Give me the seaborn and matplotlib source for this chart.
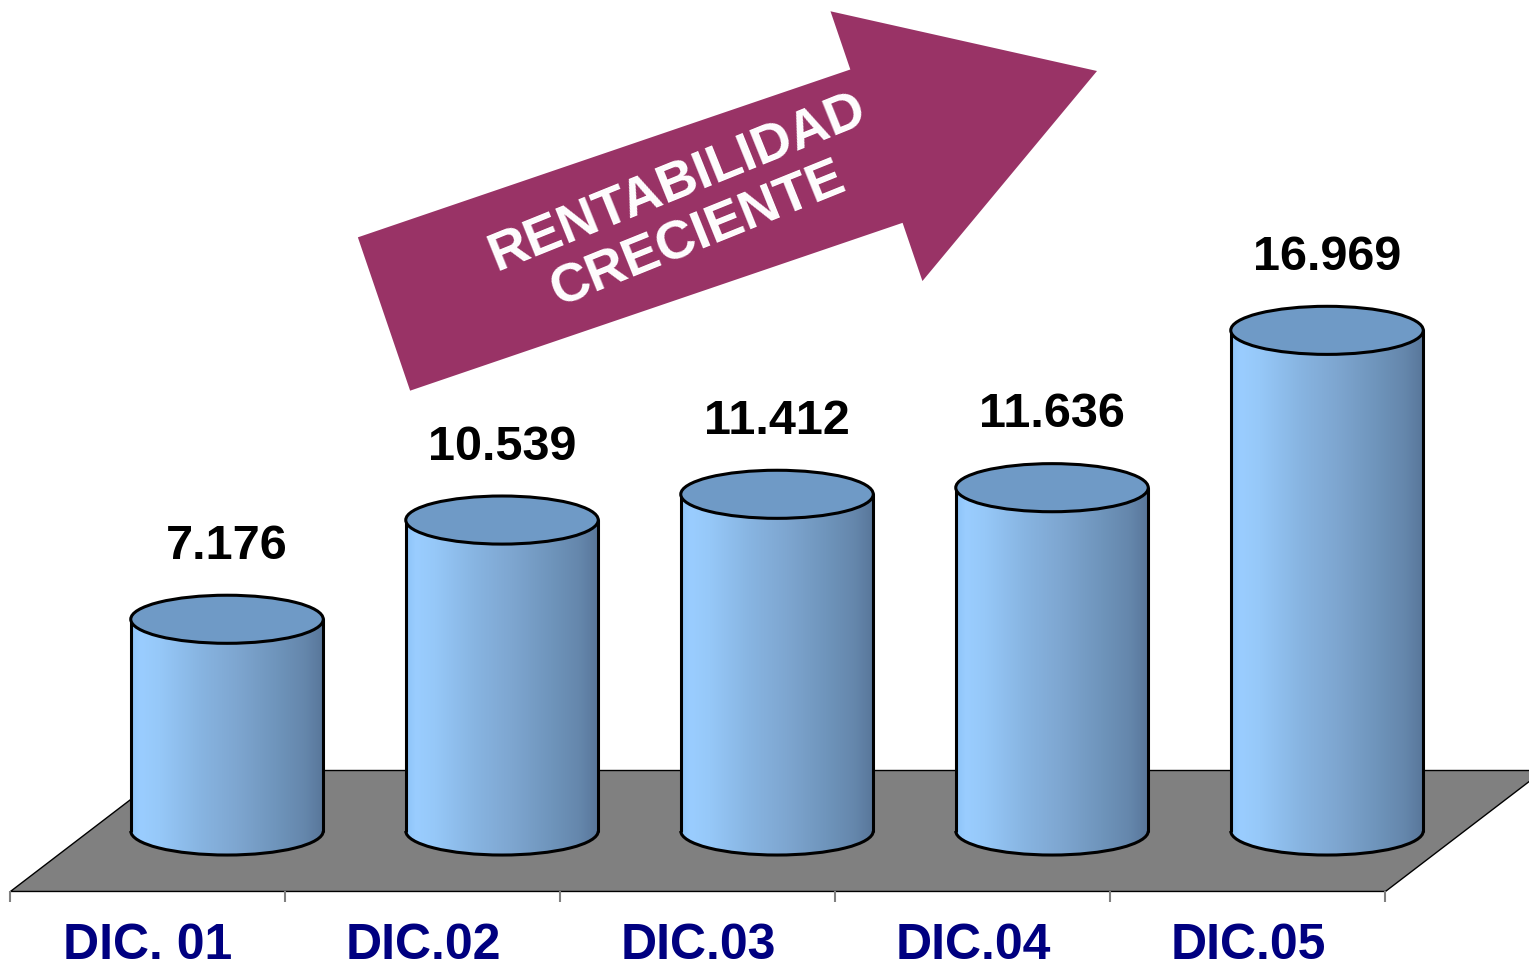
import numpy as np
import pandas as pd
import matplotlib
matplotlib.use("Agg")
import matplotlib.pyplot as plt
import seaborn as sns
from matplotlib.patches import Polygon, Ellipse, Arc, FancyArrow
from matplotlib.colors import LinearSegmentedColormap

# data
periods = ["DIC. 01", "DIC.02", "DIC.03", "DIC.04", "DIC.05"]
rentabilidad = [7.176, 10.539, 11.412, 11.636, 16.969]
value_labels = ["7.176", "10.539", "11.412", "11.636", "16.969"]
arrow_text = "RENTABILIDAD\nCRECIENTE"

sns.set_theme(style="white")
plt.rcParams["font.family"] = ["Liberation Sans", "DejaVu Sans"]

# 3d look
depth_x, depth_y = 0.575, 4.1
bar_w = 0.70
ell_h = 1.63
lw = 2.2
cyl_cmap = LinearSegmentedColormap.from_list("cyl", [
    (0.00, "#8DC4F7"), (0.05, "#9ACDFF"), (0.15, "#96C8F8"),
    (0.35, "#88B5E2"), (0.55, "#7EA6D0"), (0.75, "#6F95BC"),
    (0.90, "#6587AC"), (1.00, "#58769A")])
top_color = "#6F9AC6"

fig = plt.figure(figsize=(15.29, 9.70), dpi=100)
ax = fig.add_axes([0, 0, 1, 1])

df = pd.DataFrame({"periodo": periods, "valor": rentabilidad})
sns.barplot(data=df, x="periodo", y="valor", width=bar_w, color="#88B5E2",
            errorbar=None, ax=ax)
bars = list(ax.patches)

# floor
n = len(periods)
floor = Polygon([(-0.5, -depth_y / 2), (n - 0.5, -depth_y / 2),
                 (n - 0.5 + depth_x, depth_y / 2), (-0.5 + depth_x, depth_y / 2)],
                closed=True, facecolor="#808080", edgecolor="black", lw=1, zorder=1)
ax.add_patch(floor)
ax.vlines(np.arange(-0.5, n, 1), -depth_y / 2 - 0.35, -depth_y / 2,
          color="#808080", lw=1.5, zorder=1)

grad = np.linspace(0, 1, 256).reshape(1, -1)
for p, lab in zip(bars, value_labels):
    x0 = p.get_x() + depth_x / 2
    p.set_x(x0)
    w = p.get_width()
    h = p.get_height()
    cx = x0 + w / 2
    p.set_facecolor("none")
    p.set_linewidth(0)
    p.set_zorder(3)

    im = ax.imshow(grad, cmap=cyl_cmap, extent=[x0, x0 + w, -ell_h / 2, h],
                   aspect="auto", zorder=3, interpolation="bilinear")
    im.set_clip_path(p)
    base = Ellipse((cx, 0), w, ell_h, facecolor="none", lw=0, zorder=3)
    ax.add_patch(base)
    im2 = ax.imshow(grad, cmap=cyl_cmap, extent=[x0, x0 + w, -ell_h / 2, 0],
                    aspect="auto", zorder=3, interpolation="bilinear")
    im2.set_clip_path(base)

    ax.plot([x0, x0], [0, h], color="black", lw=lw, zorder=4, solid_capstyle="round")
    ax.plot([x0 + w, x0 + w], [0, h], color="black", lw=lw, zorder=4, solid_capstyle="round")
    ax.add_patch(Arc((cx, 0), w, ell_h, theta1=180, theta2=360,
                     color="black", lw=lw, zorder=4))
    ax.add_patch(Ellipse((cx, h), w, ell_h, facecolor=top_color,
                         edgecolor="black", lw=lw, zorder=5))

    ax.text(cx, h + 2.5, lab, ha="center", va="center", fontsize=35,
            weight="bold", color="black", zorder=6)

for i, lab in enumerate(periods):
    ax.text(i, -4.3, lab, ha="center", va="baseline", fontsize=36,
            weight="bold", color="#000080")

ax.set_xlim(-0.538, 5.022)
ax.set_ylim(-4.678, 28.2)
ax.axis("off")

# arrow overlay in pixel space
ax2 = fig.add_axes([0, 0, 1, 1])
ax2.set_xlim(0, 1529)
ax2.set_ylim(970, 0)
ax2.axis("off")
ax2.patch.set_alpha(0)
ax2.add_patch(FancyArrow(384, 315, 713, -243, width=162, head_width=285,
                         head_length=233, length_includes_head=True,
                         color="#993366", lw=0))
ax2.text(688, 209, arrow_text, rotation=22, rotation_mode="anchor",
         ha="center", va="center", fontsize=39, weight="bold", color="white",
         linespacing=1.15)

fig.savefig("out.png", dpi=100)
